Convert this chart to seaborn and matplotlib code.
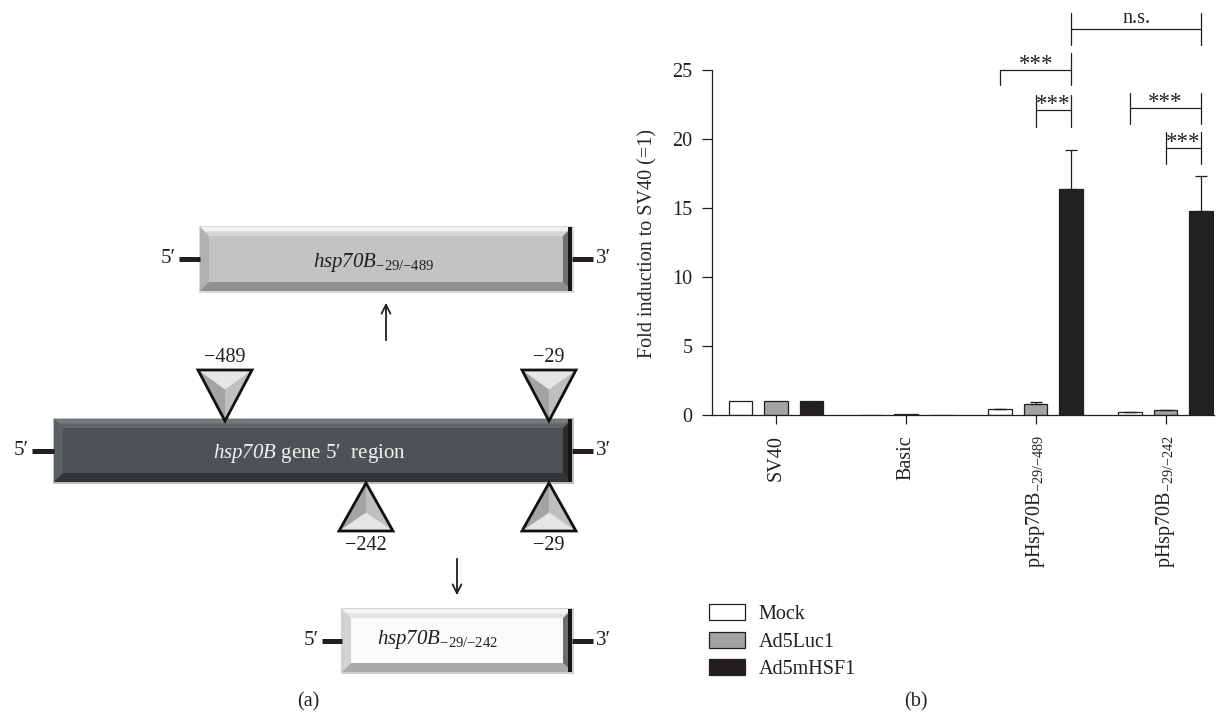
import numpy as np
import pandas as pd
import matplotlib
matplotlib.use("Agg")
import matplotlib.pyplot as plt
from matplotlib.patches import Polygon, Rectangle, Patch
import seaborn as sns

# ---------------- data ----------------
constructs = ["SV40", "Basic", "pHsp489", "pHsp242"]
tick_labels = ["SV40", "Basic", r"pHsp70B$_{{-}29/{-}489}$", r"pHsp70B$_{{-}29/{-}242}$"]
treatments = ["Mock", "Ad5Luc1", "Ad5mHSF1"]
mock_vals = [1.0, 0.0, 0.40, 0.22]
luc_vals = [1.0, 0.07, 0.78, 0.34]
hsf_vals = [1.0, 0.0, 16.4, 14.8]
mock_err = [0.0, 0.0, 0.05, 0.03]
luc_err = [0.0, 0.0, 0.14, 0.05]
hsf_err = [0.0, 0.0, 2.8, 2.5]
yticks = [0, 5, 10, 15, 20, 25]

# significance brackets: (group, hue) start, (group, hue) end, line level,
# tick range left, tick range right, label
sig_start = [(2, 0), (2, 1), (2, 2), (3, 0), (3, 1)]
sig_end = [(2, 2), (2, 2), (3, 2), (3, 2), (3, 2)]
sig_level = [25.0, 22.1, 27.95, 22.27, 19.37]
sig_tick_left = [(23.9, 25.0), (20.9, 23.2), (26.8, 29.1), (21.1, 23.36), (18.19, 20.48)]
sig_tick_right = [(23.9, 26.2), (20.9, 23.2), (26.8, 29.1), (21.1, 23.36), (18.19, 20.48)]
sig_text = ["***", "***", "n.s.", "***", "***"]

colors = ["#ffffff", "#a2a3a5", "#231f20"]
INK = "#231f20"

# ---------------- style ----------------
sns.set_theme(style="ticks")
plt.rcParams["font.family"] = ["Liberation Serif", "DejaVu Serif"]
plt.rcParams["mathtext.fontset"] = "custom"
plt.rcParams["mathtext.rm"] = "Liberation Serif"
plt.rcParams["mathtext.it"] = "Liberation Serif:italic"
plt.rcParams["mathtext.sf"] = "Liberation Serif:italic"
plt.rcParams["mathtext.bf"] = "Liberation Serif:bold"
plt.rcParams["mathtext.default"] = "rm"
plt.rcParams["text.color"] = INK
plt.rcParams["axes.edgecolor"] = INK
plt.rcParams["xtick.color"] = INK
plt.rcParams["ytick.color"] = INK

W, H = 1224, 712
fig = plt.figure(figsize=(W / 100, H / 100), dpi=100)
fig.patch.set_facecolor("white")

# ---------------- panel (a): diagram in pixel space ----------------
axd = fig.add_axes([0, 0, 1, 1])
axd.set_xlim(0, W)
axd.set_ylim(H, 0)
axd.axis("off")


def bevel_box(x0, y0, x1, y1, face, top, top2, left, bottom, right, border, b=9):
    axd.add_patch(Rectangle((x0 - 1.5, y0 - 1.5), x1 - x0 + 3, y1 - y0 + 3,
                            facecolor=border, edgecolor="none"))
    axd.add_patch(Rectangle((x0, y0), x1 - x0, y1 - y0, facecolor=face, edgecolor="none"))
    axd.add_patch(Polygon([(x0, y0), (x1, y0), (x1 - b, y0 + b), (x0 + b, y0 + b)],
                          closed=True, facecolor=top, edgecolor="none"))
    axd.add_patch(Polygon([(x0 + b * 0.5, y0 + b * 0.5), (x1 - b * 0.5, y0 + b * 0.5),
                           (x1 - b, y0 + b), (x0 + b, y0 + b)],
                          closed=True, facecolor=top2, edgecolor="none"))
    axd.add_patch(Polygon([(x0, y0), (x0 + b, y0 + b), (x0 + b, y1 - b), (x0, y1)],
                          closed=True, facecolor=left, edgecolor="none"))
    axd.add_patch(Polygon([(x0, y1), (x0 + b, y1 - b), (x1 - b, y1 - b), (x1, y1)],
                          closed=True, facecolor=bottom, edgecolor="none"))
    axd.add_patch(Polygon([(x1, y0), (x1, y1), (x1 - b, y1 - b), (x1 - b, y0 + b)],
                          closed=True, facecolor=right, edgecolor="none"))
    axd.add_patch(Rectangle((x1 - 4, y0), 4, y1 - y0, facecolor="#161616", edgecolor="none"))


def connectors(y, xl0, xl1, xr0, xr1):
    axd.plot([xl0, xl1], [y, y], color=INK, lw=3.6, solid_capstyle="butt")
    axd.plot([xr0, xr1], [y, y], color=INK, lw=3.6, solid_capstyle="butt")
    axd.text(xl0 - 3, y, "5\u2032", ha="right", va="center", fontsize=15)
    axd.text(xr1 + 3, y, "3\u2032", ha="left", va="center", fontsize=15)


def triangle(xl, xr, xc, yb, ya):
    # yb: base, ya: apex
    py = yb + 0.38 * (ya - yb)
    P = (xc, py)
    axd.add_patch(Polygon([(xl, yb), (xr, yb), P], closed=True, facecolor="#e6e6e6", edgecolor="none"))
    axd.add_patch(Polygon([(xl, yb), P, (xc, ya)], closed=True, facecolor="#a4a4a4", edgecolor="none"))
    axd.add_patch(Polygon([(xr, yb), P, (xc, ya)], closed=True, facecolor="#bfbfbf", edgecolor="none"))
    axd.add_patch(Polygon([(xl, yb), (xr, yb), (xc, ya)], closed=True, facecolor="none",
                          edgecolor="#111111", lw=2.0, joinstyle="miter"))


# top box
connectors(258.5, 179, 200, 572, 593)
bevel_box(200, 227, 572, 291, "#c2c3c4", "#f0f0f0", "#d6d6d6", "#b0b1b2", "#8f9091",
          "#6f7071", "#d9d9d9")
axd.text(374, 266.5, r"$\mathsf{hsp70B}_{{-}29/{-}489}$", ha="center", va="baseline", fontsize=15)

# arrow up
axd.annotate("", xy=(386, 300), xytext=(386, 343),
             arrowprops=dict(arrowstyle="->", lw=1.3, color=INK, mutation_scale=16))

# dark box
connectors(450.5, 32, 54, 572, 593)
bevel_box(54, 419, 572, 482, "#4e5254", "#767a7c", "#62666a", "#5c6062", "#323538",
          "#2a2c2e", "#bdbdbd")
axd.text(309.5, 458, r"$\mathsf{hsp70B}$ gene 5" + "\u2032  region", ha="center", va="baseline",
         fontsize=15, color="#f2f2f2")

# triangles above
triangle(198, 252, 225, 370, 421)
triangle(522, 576, 549, 370, 421)
axd.text(225, 358, "\u2212489", ha="center", va="center", fontsize=14.5)
axd.text(549, 358, "\u221229", ha="center", va="center", fontsize=14.5)

# triangles below
triangle(339, 393, 366, 531, 483)
triangle(522, 576, 549, 531, 483)
axd.text(366, 545, "\u2212242", ha="center", va="center", fontsize=14.5)
axd.text(549, 545, "\u221229", ha="center", va="center", fontsize=14.5)

# arrow down
axd.annotate("", xy=(457, 598), xytext=(457, 556),
             arrowprops=dict(arrowstyle="->", lw=1.3, color=INK, mutation_scale=16))

# bottom box
connectors(640.5, 322, 342, 572, 593)
bevel_box(342, 609, 572, 672, "#fbfbfb", "#f4f4f4", "#e4e4e4", "#d2d2d2", "#a9a9a9",
          "#6e6e6e", "#cfcfcf")
axd.text(438, 644, r"$\mathsf{hsp70B}_{{-}29/{-}242}$", ha="center", va="baseline", fontsize=15)

fig.text(308 / W, 1 - 702 / H, "(a)", ha="center", va="center", fontsize=14.5)
fig.text(916 / W, 1 - 702 / H, "(b)", ha="center", va="center", fontsize=14.5)

# ---------------- panel (b): bar chart ----------------
px_per_unit = 13.8
ytop = 29.6
y0_px = 415
ax = fig.add_axes([712 / W, (H - y0_px) / H, (1214 - 712) / W, ytop * px_per_unit / H])
ax.patch.set_alpha(0)

df = pd.DataFrame({
    "construct": constructs * 3,
    "treatment": [t for t in treatments for _ in constructs],
    "fold": mock_vals + luc_vals + hsf_vals,
})
sns.barplot(data=df, x="construct", y="fold", hue="treatment", order=constructs,
            hue_order=treatments, palette=colors, edgecolor=INK, linewidth=0.9,
            width=0.82, gap=0.34, errorbar=None, ax=ax, legend=False)

errs = [mock_err, luc_err, hsf_err]
for cont, err in zip(ax.containers, errs):
    for bar, e in zip(cont, err):
        if e > 0:
            xc = bar.get_x() + bar.get_width() / 2
            ax.errorbar(xc, bar.get_height(), yerr=[[0], [e]], fmt="none", ecolor=INK,
                        elinewidth=0.9, capsize=4.5, capthick=0.9, zorder=1)


def bar_center(g, h):
    b = ax.containers[h][g]
    return b.get_x() + b.get_width() / 2


for s, e, lvl, tl, tr, txt in zip(sig_start, sig_end, sig_level, sig_tick_left, sig_tick_right, sig_text):
    x1, x2 = bar_center(*s), bar_center(*e)
    ax.plot([x1, x2], [lvl, lvl], color=INK, lw=0.9, clip_on=False)
    ax.plot([x1, x1], list(tl), color=INK, lw=0.9, clip_on=False)
    ax.plot([x2, x2], list(tr), color=INK, lw=0.9, clip_on=False)
    if txt == "n.s.":
        ax.text((x1 + x2) / 2, lvl + 0.45, txt, ha="center", va="baseline", fontsize=14.5,
                clip_on=False)
    else:
        ax.text((x1 + x2) / 2, lvl + 0.0, txt, ha="center", va="baseline", fontsize=16.5,
                clip_on=False)

ax.set_xlim(-0.492, 3.373)
ax.set_ylim(0, ytop)
ax.set_yticks(yticks)
ax.set_yticklabels([str(v) for v in yticks], fontsize=14.5)
ax.set_xticks(range(len(constructs)))
ax.set_xticklabels(tick_labels, rotation=90, fontsize=14.5)
ax.tick_params(axis="y", direction="out", length=7.5, width=0.9, pad=6.5)
ax.tick_params(axis="x", direction="out", length=6.5, width=0.9, pad=8)
ax.set_xlabel("")
ax.set_ylabel("Fold induction to SV40 (=1)", fontsize=14.5)
ax.yaxis.set_label_coords((657 - 712) / (1214 - 712), 12.46 / ytop)
sns.despine(ax=ax)
ax.spines["left"].set_bounds(0, 25)
ax.spines["left"].set_linewidth(0.9)
ax.spines["bottom"].set_linewidth(0.9)

handles = [Patch(facecolor=c, edgecolor=INK, linewidth=0.9) for c in colors]
fig.legend(handles, treatments, loc="upper left", bbox_to_anchor=(709 / W, 1 - 604 / H),
           frameon=False, fontsize=14.5, handlelength=1.8, handleheight=0.85,
           handletextpad=0.65, labelspacing=0.38, borderpad=0, borderaxespad=0)

fig.savefig("out.png", dpi=100, facecolor="white")
